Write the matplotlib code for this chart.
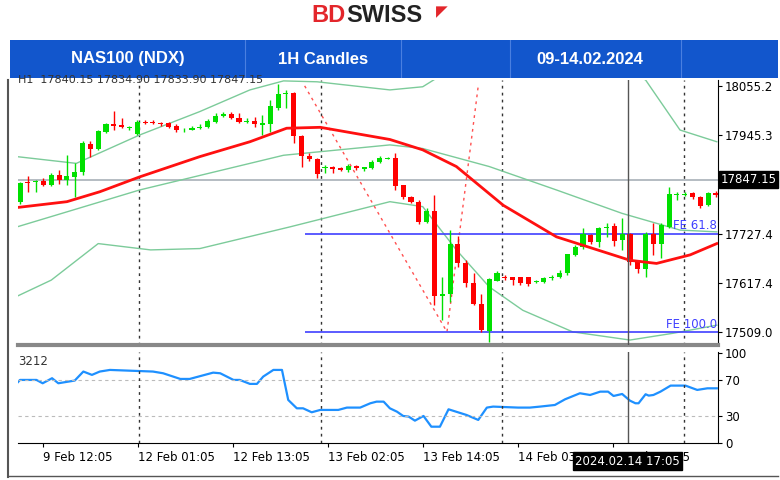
import matplotlib
matplotlib.use("Agg")
import matplotlib.pyplot as plt
import numpy as np

opens = [17798,17842,17841,17845,17835,17857,17846,17853,17864,17927,17914,17953,17970,17968,17962,17948,17974,17974,17973,17972,
         17966,17956,17957,17961,17963,17975,17988,17992,17984,17974,17977,17969,17970,18005,18038,18040,17944,17899,17893,17872,
         17876,17872,17868,17877,17870,17872,17887,17893,17894,17835,17809,17798,17753,17778,17588,17594,17705,17662,17618,17571,
         17512,17623,17631,17630,17630,17630,17619,17620,17628,17630,17639,17679,17698,17724,17709,17739,17744,17713,17726,17665,
         17648,17726,17704,17742,17813,17813,17818,17808,17790,17818]
closes = [17839,17839,17845,17835,17857,17846,17855,17864,17929,17916,17955,17970,17966,17963,17964,17975,17973,17972,17970,17964,
          17958,17958,17962,17964,17978,17988,17993,17984,17975,17978,17970,17972,18010,18038,18040,17944,17899,17892,17859,17876,
          17870,17868,17877,17872,17874,17887,17894,17896,17833,17809,17798,17753,17778,17588,17594,17705,17662,17618,17571,17513,
          17626,17640,17628,17625,17617,17615,17620,17628,17631,17640,17682,17698,17726,17709,17739,17742,17711,17726,17665,17648,
          17726,17705,17746,17815,17816,17816,17808,17788,17818,17813]
highs = [17842,17855,17846,17850,17861,17868,17901,17883,17933,17933,17957,17973,18000,17983,17967,17979,17979,17979,17975,17975,
         17970,17961,17966,17970,17981,17994,17998,17998,17995,17983,17985,17990,18024,18059,18046,18042,17946,17905,17896,17879,
         17877,17874,17882,17879,17876,17890,17899,17898,17905,17835,17810,17802,17783,17813,17630,17735,17722,17668,17640,17594,
         17628,17645,17635,17631,17631,17631,17624,17631,17635,17646,17683,17702,17739,17726,17742,17751,17750,17761,17728,17668,
         17731,17751,17750,17830,17820,17820,17819,17810,17820,17822]
lows = [17793,17820,17820,17833,17833,17838,17835,17808,17857,17898,17913,17951,17958,17961,17958,17946,17970,17970,17966,17962,
        17953,17953,17956,17959,17961,17973,17987,17981,17972,17972,17964,17946,17953,18001,18005,17929,17876,17889,17850,17862,
        17862,17867,17864,17868,17867,17870,17884,17892,17824,17803,17796,17748,17751,17568,17535,17576,17654,17609,17568,17509,
        17487,17621,17624,17613,17613,17611,17617,17617,17625,17628,17636,17677,17694,17705,17698,17720,17699,17691,17657,17639,
        17631,17680,17672,17739,17802,17810,17805,17785,17788,17809]

ma_x = [-0.4,6.0,10.2,15.3,23,29.4,34.1,38.4,47.3,51.5,55.8,61.8,68.6,78,81.4,85.7,89.1]
ma_y = [17785,17798,17820,17853,17898,17931,17961,17963,17936,17913,17876,17790,17720,17668,17661,17680,17705]
up_x = [-0.4,7.2,15.3,23,29.4,33.7,38,47.3,51.5,54,60,66,74,80,84.4,89.1]
up_y = [17898,17883,17946,17998,18046,18066,18064,18046,18053,18080,18140,18160,18120,18068,17957,17931]
mid_x = [-0.4,15.3,33.7,47.3,51.5,60,68.6,77,84.4,89.1]
mid_y = [17742,17824,17901,17924,17916,17876,17824,17772,17735,17731]
lo_x = [-0.4,4,10,16.7,23,34.5,47.3,51.5,55.8,60,64.3,70.7,78,83.5,89.1]
lo_y = [17588,17624,17705,17691,17694,17742,17798,17787,17691,17609,17557,17509,17491,17506,17524]

rsi_x = [-0.4,0,2.1,2.9,4.1,4.9,7.0,8.1,9.2,10.2,11.5,17.0,18.3,20.5,21.7,24.7,25.6,27.3,28.1,29.4,30.3,31.1,32.4,33.5,
         34.3,35.4,36.2,37.3,38.4,40.7,41.8,43.5,44.8,45.6,46.5,47.3,48.2,49.0,49.7,50.5,51.6,52.6,53.7,54.8,57.1,58.6,59.7,
         60.5,63.7,65.2,66.5,68.4,69.7,71.6,72.9,74.2,75.2,75.9,77.0,78.0,78.7,79.1,80.0,80.4,81.0,81.9,83.2,85.1,86.6,87.9,89.1]
rsi_y = [66.3,70,70,66.3,71.9,66.3,69.3,79.3,75.6,79.3,81.1,79.3,77.4,71.1,71.1,78.1,77.4,70,70,65.6,65.6,73.7,81.1,81.1,
         47.8,38.5,38.5,34.1,36.7,36.7,39.3,39.3,44.1,45.9,45.9,38.5,34.8,30,29.3,24.8,30,18.1,18.1,37.4,31.1,25.6,39.3,
         40.4,39.3,39.3,40.4,42.2,48.5,55.2,53.3,57,57,52.2,54.4,47,44.1,44.1,54.1,52.6,53.3,57,63.7,63.7,58.9,60.7,60.7]

xticks_idx = [2.9,15.1,27.2,39.4,51.5,63.7,75.8]
xtick_labels = ["9 Feb 12:05","12 Feb 01:05","12 Feb 13:05","13 Feb 02:05","13 Feb 14:05","14 Feb 03:05","14 Feb 16:05"]
price_ticks = [18055.2,17945.3,17727.4,17617.4,17509.0]
vlines_idx = [15.2,38.5,61.6,84.9]
cross_idx = 77.7
fib_x = [36.4,54.6,58.6]
fib_y = [18055,17509,18055]
fe_levels = [17727.4,17509.0]
fe_labels = ["FE 61.8","FE 100.0"]
last_price = 17847.15

W, H = 780, 480
fig = plt.figure(figsize=(7.8,4.8), dpi=100)
plt.rcParams['font.family'] = ['DejaVu Sans']
def ax_px(l,t,r,b):
    return fig.add_axes([l/W, 1-b/H, (r-l)/W, (b-t)/H])

# header
fig.text(346/W, 1-15/H, "BD", color="#E3262B", fontsize=17, fontweight="bold", ha="right", va="center", family="Liberation Sans")
fig.text(346/W, 1-15/H, "SWISS", color="#222222", fontsize=17, fontweight="bold", ha="left", va="center", family="Liberation Sans")
fig.text(442/W, 1-12/H, "◤", color="#E3262B", fontsize=11, ha="center", va="center")
bn = ax_px(10,40,778,78)
bn.set_facecolor("#1256CC"); bn.set_xticks([]); bn.set_yticks([])
for s in bn.spines.values(): s.set_visible(False)
bn.set_xlim(10,778); bn.set_ylim(0,1)
for xd in [245,401,510,681]:
    bn.axvline(xd, color="#4a7fe0", lw=0.8)
for xc, t in [(128,"NAS100 (NDX)"),(323,"1H Candles"),(590,"09-14.02.2024")]:
    bn.text(xc, 0.5, t, color="white", fontsize=12, fontweight="bold", ha="center", va="center", family="Liberation Sans")

x0 = (18-20)/7.82; x1 = (718-20)/7.82
ax = ax_px(18,80,718,345)
n = len(opens)
idx = np.arange(n)
o = np.array(opens); c = np.array(closes)
cols = np.where(c >= o, "#00E000", "#FF0000")
ax.vlines(idx, lows, highs, colors=cols, lw=1, zorder=3)
ax.bar(idx, np.maximum(np.abs(c-o), 2), bottom=np.minimum(o,c), width=0.65, color=cols, zorder=4)
band = "#7CCB9A"
ax.plot(up_x, up_y, color=band, lw=1, zorder=2)
ax.plot(mid_x, mid_y, color=band, lw=1, zorder=2)
ax.plot(lo_x, lo_y, color=band, lw=1, zorder=2)
ax.plot(ma_x, ma_y, color="#FF1010", lw=2, zorder=5)
ax.axhline(last_price, color="#A8B0B8", lw=1.2, zorder=1)
for xv in vlines_idx:
    ax.axvline(xv, color="#333333", lw=1, ls=(0,(2,3)), zorder=1)
ax.axvline(cross_idx, color="#555555", lw=1, zorder=6)
ax.plot(fib_x, fib_y, color="#FF5050", lw=1, ls=(0,(2,3)), zorder=2)
for lv, lb in zip(fe_levels, fe_labels):
    ax.hlines(lv, fib_x[0], x1, color="#4040FF", lw=1.2, zorder=2)
    ax.text(x1-0.1, lv+3, lb, color="#4040FF", fontsize=8.5, ha="right", va="bottom", zorder=7)
ax.set_xlim(x0, x1); ax.set_ylim(17480, 18068)
ax.yaxis.tick_right()
ax.set_yticks(price_ticks)
ax.set_yticklabels([f"{p:.1f}" for p in price_ticks], fontsize=8.5)
ax.set_xticks([])
ax.tick_params(axis='y', length=3, pad=2)
ax.text(0, 1.0, "H1  17840.15 17834.90 17833.90 17847.15", transform=ax.transAxes, fontsize=8, va="center", color="#333333")
ax.text(x1+0.3, last_price, "17847.15", fontsize=8.5, color="white", va="center", ha="left",
        bbox=dict(boxstyle="square,pad=0.15", fc="black", ec="black"), clip_on=False, zorder=8)
for s in ["top","left"]: ax.spines[s].set_visible(False)
ax.spines["bottom"].set_color("#888888"); ax.spines["bottom"].set_linewidth(3)

ax2 = ax_px(18,352,718,443)
ax2.plot(rsi_x, rsi_y, color="#1E90FF", lw=1.6)
ax2.axhline(70, color="#BBBBBB", lw=0.8, ls=(0,(3,3)))
ax2.axhline(30, color="#BBBBBB", lw=0.8, ls=(0,(3,3)))
for xv in vlines_idx:
    ax2.axvline(xv, color="#333333", lw=1, ls=(0,(2,3)))
ax2.axvline(cross_idx, color="#555555", lw=1)
ax2.set_xlim(x0, x1); ax2.set_ylim(0, 101)
ax2.yaxis.tick_right()
ax2.set_yticks([0,30,70,100]); ax2.set_yticklabels(["0","30","70","100"], fontsize=8.5)
ax2.set_xticks(xticks_idx)
ax2.set_xticklabels(xtick_labels, fontsize=8.5, ha="left")
ax2.tick_params(axis='x', length=3, pad=3)
ax2.tick_params(axis='y', length=3, pad=2)
ax2.text(0.0, 0.9, "3212", transform=ax2.transAxes, fontsize=8.5, va="center", color="#333333")
for s in ["top","left"]: ax2.spines[s].set_visible(False)
ax2.text(cross_idx, -0.13, "2024.02.14 17:05", transform=ax2.get_xaxis_transform(), fontsize=8.5, color="white",
         ha="center", va="top", bbox=dict(boxstyle="square,pad=0.2", fc="black", ec="black"), clip_on=False, zorder=9)

fr = ax_px(0,0,780,480); fr.set_zorder(-1); fr.axis("off")
fr.set_xlim(0,780); fr.set_ylim(480,0)
fr.plot([8,8],[80,477],color="#555555",lw=1.5)
fr.plot([8,778],[476,476],color="#555555",lw=1)

fig.savefig("out.png", dpi=100)
